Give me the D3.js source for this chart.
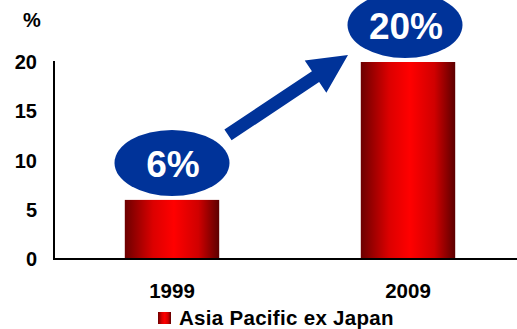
<!DOCTYPE html>
<html>
<head>
<meta charset="utf-8">
<script src="https://cdn.jsdelivr.net/npm/d3@7"></script>
<style>
  body { margin: 0; background: #fff; }
  svg text { font-family: Arial, "Liberation Sans", sans-serif; font-weight: bold; }
</style>
</head>
<body>
<div id="chart"></div>
<script>
// data
var years = ["1999", "2009"];
var shares = [6, 20];
var callouts = ["6%", "20%"];
var yTicks = [0, 5, 10, 15, 20];
var seriesName = "Asia Pacific ex Japan";

var svgWidth = 517, svgHeight = 329;
var margin = {"top": 62, "bottom": 70, "left": 54, "right": -9};

var svg = d3.select("#chart").append("svg")
    .attr("width", svgWidth)
    .attr("height", svgHeight);

var xScale = d3.scaleBand()
    .domain(years)
    .range([margin.left, svgWidth - margin.right]);

var yScale = d3.scaleLinear()
    .domain([0, 20])
    .range([svgHeight - margin.bottom, margin.top]);

var barW = xScale.bandwidth() * 0.4;

// bar gradient - dark edges, bright middle
var defs = svg.append("defs");
var grad = defs.append("linearGradient")
    .attr("id", "barGrad")
    .attr("x1", "0%").attr("x2", "100%")
    .attr("y1", "0%").attr("y2", "0%");
[[0, "#6c0000"], [0.3, "#dc0000"], [0.52, "#ff0000"], [0.78, "#d00000"], [1, "#5c0000"]]
    .forEach(function(s) {
        grad.append("stop").attr("offset", s[0]).attr("stop-color", s[1]);
    });

// bars
svg.selectAll("rect.bar")
    .data(years)
    .enter().append("rect")
    .attr("class", "bar")
    .attr("x", d => xScale(d) + (xScale.bandwidth() - barW) / 2)
    .attr("width", barW)
    .attr("y", (d, i) => yScale(shares[i]))
    .attr("height", (d, i) => yScale(0) - yScale(shares[i]))
    .attr("fill", "url(#barGrad)");

// axes lines
svg.append("line")
    .attr("x1", margin.left).attr("x2", margin.left)
    .attr("y1", yScale(20) - 1).attr("y2", yScale(0))
    .attr("stroke", "#000").attr("stroke-width", 2);
svg.append("line")
    .attr("x1", margin.left - 1).attr("x2", svgWidth)
    .attr("y1", yScale(0)).attr("y2", yScale(0))
    .attr("stroke", "#000").attr("stroke-width", 2);

// y tick labels
svg.selectAll("text.ytick")
    .data(yTicks)
    .enter().append("text")
    .attr("class", "ytick")
    .attr("x", 37)
    .attr("y", d => yScale(d))
    .attr("dy", "0.35em")
    .attr("text-anchor", "end")
    .style("font-size", "20px")
    .text(d => d);

svg.append("text")
    .attr("x", 32).attr("y", 27)
    .attr("text-anchor", "middle")
    .style("font-size", "20px")
    .text("%");

// x labels
svg.selectAll("text.xtick")
    .data(years)
    .enter().append("text")
    .attr("class", "xtick")
    .attr("x", d => xScale(d) + xScale.bandwidth() / 2)
    .attr("y", 298)
    .attr("text-anchor", "middle")
    .style("font-size", "20.5px")
    .text(d => d);

// callout ellipses
var rx = 57.5, ry = 33;
var centers = years.map((d, i) => [xScale(d) + xScale.bandwidth() / 2 - (i ? 3 : 0),
                                    yScale(shares[i]) - 37]);

svg.selectAll("ellipse.callout")
    .data(centers)
    .enter().append("ellipse")
    .attr("class", "callout")
    .attr("cx", d => d[0]).attr("cy", d => d[1])
    .attr("rx", rx).attr("ry", ry)
    .attr("fill", "#003399");

svg.selectAll("text.callout")
    .data(callouts)
    .enter().append("text")
    .attr("class", "callout")
    .attr("x", (d, i) => centers[i][0] + 1)
    .attr("y", (d, i) => centers[i][1] + 14)
    .attr("text-anchor", "middle")
    .attr("fill", "#fff")
    .style("font-size", "37px")
    .text(d => d);

// arrow from first callout to second
var start = [centers[0][0] + 56, centers[0][1] - 28];
var end = [centers[1][0] - 57, centers[1][1] + 30];
var len = Math.hypot(end[0] - start[0], end[1] - start[1]);
var ang = Math.atan2(end[1] - start[1], end[0] - start[0]) * 180 / Math.PI;
var sw = 6.5, hw = 19.5, hl = 39;
var arrowPts = [[0, -sw], [len - hl, -sw], [len - hl, -hw], [len, 0],
                [len - hl, hw], [len - hl, sw], [0, sw]];
svg.append("polygon")
    .attr("points", arrowPts.map(p => p.join(",")).join(" "))
    .attr("transform", "translate(" + start[0] + "," + start[1] + ") rotate(" + ang + ")")
    .attr("fill", "#003399");

// legend
svg.append("rect")
    .attr("x", 158).attr("y", 312)
    .attr("width", 13).attr("height", 12)
    .attr("fill", "url(#barGrad)");
svg.append("text")
    .attr("x", 179).attr("y", 325)
    .style("font-size", "20.5px")
    .style("letter-spacing", "0.3px")
    .text(seriesName);
</script>
</body>
</html>
